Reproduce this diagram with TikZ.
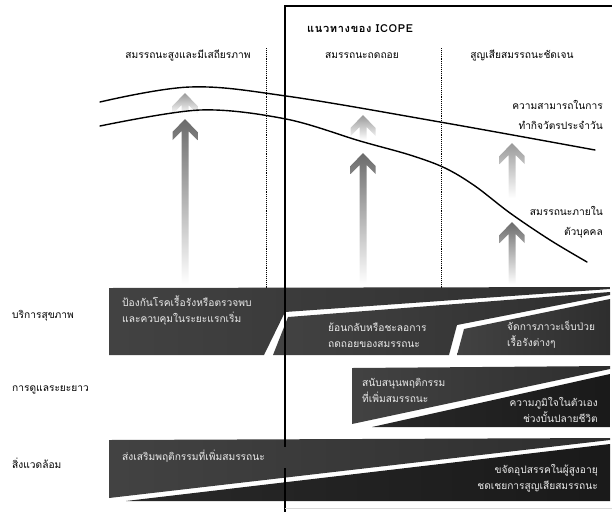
\documentclass[tikz,border=0pt]{standalone}
\usepackage{fontspec}
\setmainfont{Loma}[Script=Thai]
\usetikzlibrary{calc}

\tikzset{
  curve/.style={line width=1.4pt, line cap=round},
  phase/.style={densely dotted, line width=0.9pt},
  frame/.style={line width=1.4pt},
  headtext/.style={font=\fontsize{10.2}{12}\selectfont, inner sep=0pt},
  rowtext/.style={font=\fontsize{10.2}{12}\selectfont, inner sep=0pt, anchor=west},
  bandtext/.style={font=\fontsize{10.2}{16}\selectfont, text=black!8, inner sep=0pt},
  curvetext/.style={font=\fontsize{10.2}{20}\selectfont, inner sep=0pt, anchor=east, align=right},
  bandlight/.style={left color=black!74, right color=black!82},
  banddark/.style={left color=black!84, right color=black!90},
}

% arrow with chevron head, fading to white: x, tip y, tail y, colour
\newcommand{\risearrow}[4]{%
  \shade[top color=#4, bottom color=white]
    (#1,#2) -- (#1+12.5,#2+13) -- (#1+12.5,#2+21) -- (#1+3.5,#2+12)
    -- (#1+3.5,#3) -- (#1-3.5,#3) -- (#1-3.5,#2+12)
    -- (#1-12.5,#2+21) -- (#1-12.5,#2+13) -- cycle;
}

\begin{document}
\begin{tikzpicture}[x=1pt,y=-1pt]
\useasboundingbox (0,0) rectangle (612,512);

% phases
\draw[phase] (266,48) -- (266,288);
\draw[phase] (441,48) -- (441,288);
\node[headtext] (high) at (188,56) {สมรรถนะสูงและมีเสถียรภาพ};
\node[headtext] (decl) at (362,56) {สมรรถนะถดถอย};
\node[headtext] (loss) at (522,56) {สูญเสียสมรรถนะชัดเจน};
\node[headtext, anchor=west, font=\bfseries\fontsize{11}{12}\selectfont\addfontfeature{LetterSpace=6}] (icope) at (307,29) {แนวทางของ ICOPE};

% arrows
\risearrow{185}{93}{112}{black!40}
\risearrow{185}{119}{284}{black!58}
\risearrow{363}{115}{140}{black!40}
\risearrow{363}{153}{284}{black!58}
\risearrow{512}{143}{198}{black!40}
\risearrow{512}{222}{284}{black!58}

% curves
\draw[curve] plot[smooth, tension=0.6] coordinates {(100,102) (190,87) (286,96) (440,122) (595,150)};
\draw[curve] plot[smooth, tension=0.55] coordinates {(100,126) (200,110) (286,119) (360,141) (410,155) (445,168) (475,186) (510,213) (550,240) (587,262)};
\node[curvetext] (adl) at (603,115) {ความสามารถในการ\\ทำกิจวัตรประจำวัน};
\node[curvetext] (ic) at (603,222) {สมรรถนะภายใน\\ตัวบุคคล};

% health services
\shade[bandlight] (109,288) -- (610,287) -- (610,289) -- (285,312) -- (264,355) -- (109,355) -- cycle;
\shade[bandlight] (273,355) -- (288,317) -- (610,292) -- (610,295) -- (457,325) -- (449,355) -- cycle;
\shade[bandlight] (457,355) -- (464,329) -- (610,299) -- (610,355) -- cycle;
\node[bandtext, anchor=west, align=left] (prevent) at (122,310) {ป้องกันโรคเรื้อรังหรือตรวจพบ\\และควบคุมในระยะแรกเริ่ม};
\node[bandtext, anchor=west, align=left] (reverse) at (328,335) {ย้อนกลับหรือชะลอการ\\ถดถอยของสมรรถนะ};
\node[bandtext, anchor=west, align=left] (manage) at (507,335) {จัดการภาวะเจ็บป่วย\\เรื้อรังต่างๆ};

% long-term care
\shade[bandlight] (352,368) -- (610,366) -- (610,369) -- (352,424) -- cycle;
\shade[banddark] (372,427) -- (610,374) -- (610,427) -- cycle;
\node[bandtext, anchor=west, align=left] (support) at (362,390) {สนับสนุนพฤติกรรม\\ที่เพิ่มสมรรถนะ};
\node[bandtext, anchor=east, align=right] (dignity) at (598,410) {ความภูมิใจในตัวเอง\\ช่วงบั้นปลายชีวิต};

% environments
\shade[bandlight] (109,440) -- (610,438) -- (610,440) -- (109,498) -- cycle;
\shade[banddark] (126,501) -- (610,444) -- (610,501) -- cycle;
\node[bandtext, anchor=west] (promote) at (122,456) {ส่งเสริมพฤติกรรมที่เพิ่มสมรรถนะ};
\node[bandtext, anchor=east, align=right] (remove) at (598,478) {ขจัดอุปสรรคในผู้สูงอายุ\\ชดเชยการสูญเสียสมรรถนะ};

% rows
\node[rowtext] (health) at (12,316) {บริการสุขภาพ};
\node[rowtext] (ltc) at (12,390) {การดูแลระยะยาว};
\node[rowtext] (env) at (12,463) {สิ่งแวดล้อม};

% ICOPE frame
\draw[frame] (612,6) -- (285,6) -- (285,447);
\draw[frame] (285,468) -- (285,512);
\draw[black!15, line width=0.8pt] (285,508) -- (612,508);
\end{tikzpicture}
\end{document}
